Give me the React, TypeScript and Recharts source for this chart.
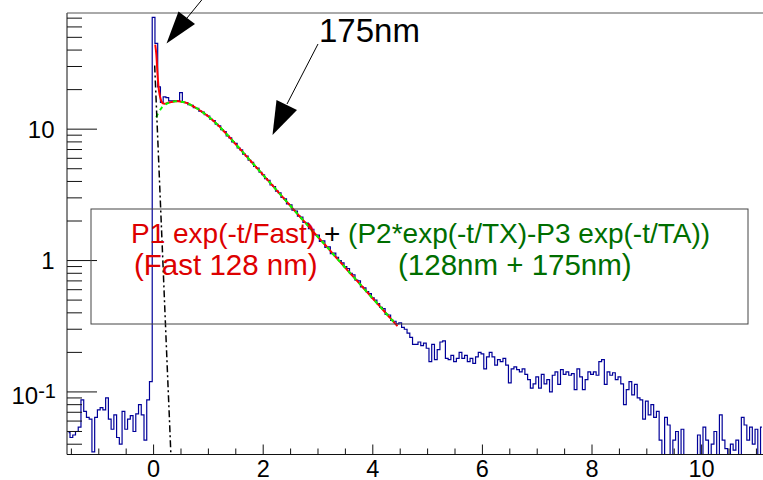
import React from "react";
import { LineChart, Line, XAxis, YAxis } from "recharts";

// histogram: bin centres start at -1.55, width 0.05
const BIN_FIRST = -1.55;
const BIN_WIDTH = 0.05;

// -1.55 .. -0.05
const histPre = [
  0.049, 0.045, 0.047, 0.05, 0.054, 0.087, 0.071, 0.064, 0.062, 0.035,
  0.064, 0.073, 0.076, 0.073, 0.09, 0.062, 0.052, 0.067, 0.045, 0.04,
  0.071, 0.052, 0.062, 0.066, 0.05, 0.068, 0.08, 0.067, 0.043, 0.087,
  0.12,
];
// 0.00 .. 0.55
const histPeak = [71, 45, 21, 16.0, 17.6, 17.4, 16.4, 16.4, 16.5, 16.4, 19.0, 16.0];
// 0.60 .. 4.50
const histDecay = [
  15.9, 15.4, 15.2, 14.6, 14.4, 13.7, 13.5, 12.9, 12.6, 11.9,
  11.6, 10.9, 10.6, 9.9, 9.6, 8.9, 8.6, 8.0, 7.8, 7.2,
  6.95, 6.45, 6.25, 5.8, 5.6, 5.2, 5.05, 4.7, 4.5, 4.2,
  4.08, 3.76, 3.66, 3.38, 3.27, 3.02, 2.95, 2.7, 2.66, 2.42,
  2.38, 2.18, 2.14, 1.95, 1.93, 1.75, 1.73, 1.57, 1.56, 1.4,
  1.41, 1.26, 1.27, 1.13, 1.14, 1.06, 1.0, 0.96, 0.9, 0.87,
  0.8, 0.78, 0.71, 0.7, 0.63, 0.62, 0.58, 0.56, 0.52, 0.5,
  0.47, 0.44, 0.43, 0.39, 0.385, 0.35, 0.345, 0.33, 0.335,
];
// 4.55 .. 11.10 (0.03 = empty, falls below the frame)
const histTail = [
  0.31, 0.3, 0.28, 0.26, 0.23, 0.23, 0.24, 0.225, 0.235, 0.215,
  0.17, 0.23, 0.176, 0.21, 0.24, 0.245, 0.18, 0.176, 0.19, 0.17,
  0.18, 0.2, 0.18, 0.19, 0.17, 0.18, 0.165, 0.185, 0.2, 0.195,
  0.15, 0.185, 0.2, 0.185, 0.16, 0.176, 0.17, 0.18, 0.16, 0.117,
  0.15, 0.155, 0.148, 0.142, 0.15, 0.136, 0.124, 0.107, 0.115, 0.13,
  0.107, 0.136, 0.115, 0.124, 0.1, 0.134, 0.142, 0.114, 0.148, 0.136,
  0.142, 0.134, 0.138, 0.104, 0.15, 0.13, 0.104, 0.124, 0.142, 0.136,
  0.142, 0.134, 0.17, 0.176, 0.114, 0.142, 0.134, 0.14, 0.124, 0.13,
  0.115, 0.08, 0.104, 0.12, 0.095, 0.114, 0.09, 0.087, 0.062, 0.085,
  0.067, 0.08, 0.064, 0.071, 0.043, 0.03, 0.064, 0.056, 0.03, 0.043,
  0.05, 0.03, 0.052, 0.03, 0.03, 0.03, 0.03, 0.03, 0.047, 0.03,
  0.054, 0.043, 0.03, 0.04, 0.05, 0.03, 0.067, 0.043, 0.037, 0.03,
  0.04, 0.036, 0.043, 0.03, 0.064, 0.056, 0.043, 0.054, 0.04, 0.052,
  0.03, 0.054,
];

// fit curves
const totalHeadX = [0.03, 0.05, 0.07, 0.09, 0.11, 0.13, 0.15, 0.17, 0.2, 0.25, 0.3, 0.35, 0.4, 0.45];
const totalHead = [44, 37, 27, 21, 18.3, 16.9, 16.1, 15.7, 15.6, 15.8, 16.0, 16.2, 16.3, 16.3];
const slowHeadX = [0.05, 0.07, 0.1, 0.15, 0.2, 0.25, 0.3, 0.35, 0.4, 0.45];
const slowHead = [12.3, 12.9, 13.6, 14.6, 15.2, 15.7, 16.0, 16.2, 16.3, 16.3];
const fitX = [
  0.5, 0.6, 0.7, 0.8, 0.9, 1.0, 1.1, 1.2, 1.3, 1.4, 1.5, 1.6, 1.7, 1.8, 1.9, 2.0,
  2.1, 2.2, 2.3, 2.4, 2.5, 2.6, 2.7, 2.8, 2.9, 3.0, 3.1, 3.2, 3.3, 3.4, 3.5, 3.6,
  3.7, 3.8, 3.9, 4.0, 4.1, 4.2, 4.3, 4.4,
];
const fitSlow = [
  16.2, 15.85, 15.1, 14.3, 13.4, 12.5, 11.5, 10.5, 9.48, 8.55, 7.67, 6.89, 6.18, 5.55, 4.99, 4.47,
  4.02, 3.6, 3.23, 2.9, 2.6, 2.33, 2.09, 1.88, 1.68, 1.51, 1.36, 1.22, 1.09, 0.98, 0.88, 0.79,
  0.71, 0.638, 0.572, 0.514, 0.462, 0.415, 0.372, 0.334,
];
const totalEndX = [4.45];
const totalEnd = [0.317];
const fastX = [0.02, 0.05, 0.08, 0.11, 0.14, 0.17, 0.2, 0.23, 0.26, 0.29, 0.32];
const fast = [30.5, 15.3, 7.7, 3.85, 1.93, 0.97, 0.48, 0.24, 0.12, 0.061, 0.03];

const xTicks = [-1.5, -1, -0.5, 0, 0.5, 1, 1.5, 2, 2.5, 3, 3.5, 4, 4.5, 5, 5.5, 6, 6.5, 7, 7.5, 8, 8.5, 9, 9.5, 10, 10.5, 11];
const yTicks = [
  0.04, 0.05, 0.06, 0.07, 0.08, 0.09, 0.1, 0.2, 0.3, 0.4, 0.5, 0.6, 0.7, 0.8, 0.9,
  1, 2, 3, 4, 5, 6, 7, 8, 9, 10, 20, 30, 40, 50, 60, 70,
];

const zip = (xs: number[], ys: number[]) => xs.map((x, i) => ({ x, y: ys[i] }));

const histData = [...histPre, ...histPeak, ...histDecay, ...histTail].map((y, i) => ({
  x: +(BIN_FIRST + i * BIN_WIDTH).toFixed(3),
  y,
}));
const totalData = [...zip(totalHeadX, totalHead), ...zip(fitX, fitSlow), ...zip(totalEndX, totalEnd)];
const slowData = [...zip(slowHeadX, slowHead), ...zip(fitX, fitSlow)];
const fastData = zip(fastX, fast);

const FONT = "'Liberation Sans', Arial, Helvetica, sans-serif";

const XTick = (props: any) => {
  const { x, y, payload } = props;
  const v = payload.value;
  const major = Math.abs(v % 2) < 1e-6;
  return (
    <g>
      <line x1={x} x2={x} y1={y} y2={y - (major ? 10 : 6)} stroke="#111" />
      {major && (
        <text x={x} y={y + 22} textAnchor="middle" fontSize={23.5} fontFamily={FONT} fill="#000">
          {v}
        </text>
      )}
    </g>
  );
};

const YTick = (props: any) => {
  const { x, y, payload } = props;
  const v = payload.value;
  const major = v === 0.1 || v === 1 || v === 10;
  let label: React.ReactNode = null;
  if (v === 10 || v === 1) {
    label = (
      <text x={x - 12.5} y={y + 8.5} textAnchor="end" fontSize={24} fontFamily={FONT} fill="#000">
        {v}
      </text>
    );
  } else if (v === 0.1) {
    label = (
      <text x={x - 11} y={y + 11.7} textAnchor="end" fontSize={24} fontFamily={FONT} fill="#000">
        10<tspan fontSize={20} dy={-6}>-1</tspan>
      </text>
    );
  }
  return (
    <g>
      <line x1={x} x2={x + (major ? 30 : 15)} y1={y} y2={y} stroke="#111" />
      {label}
    </g>
  );
};

export default function App() {
  return (
    <div style={{ position: "absolute", left: 0, top: 0, width: 763, height: 480, background: "#fff" }}>
      <LineChart width={763} height={480} margin={{ top: 13, right: 0, bottom: 0, left: 0 }}>
        <XAxis
          dataKey="x"
          type="number"
          domain={[-1.58, 11.12]}
          allowDataOverflow
          ticks={xTicks}
          interval={0}
          tickSize={0}
          tickMargin={0}
          tickLine={false}
          tick={<XTick />}
          height={25.5}
          stroke="#111"
        />
        <YAxis
          type="number"
          scale="log"
          domain={[0.0334, 76.6]}
          allowDataOverflow
          ticks={yTicks}
          interval={0}
          tickSize={0}
          tickMargin={0}
          tickLine={false}
          tick={<YTick />}
          width={67}
          stroke="#111"
        />
        <Line
          data={histData}
          dataKey="y"
          type="step"
          stroke="#000099"
          strokeWidth={1.2}
          dot={false}
          activeDot={false}
          isAnimationActive={false}
        />
        <Line
          data={totalData}
          dataKey="y"
          type="monotone"
          stroke="#ff0000"
          strokeWidth={2}
          dot={false}
          activeDot={false}
          isAnimationActive={false}
        />
        <Line
          data={slowData}
          dataKey="y"
          type="monotone"
          stroke="#00ff00"
          strokeWidth={2}
          strokeDasharray="4 4"
          dot={false}
          activeDot={false}
          isAnimationActive={false}
        />
        <Line
          data={fastData}
          dataKey="y"
          type="linear"
          stroke="#000"
          strokeWidth={1.5}
          strokeDasharray="7 3 2 3"
          dot={false}
          activeDot={false}
          isAnimationActive={false}
        />
      </LineChart>
      <svg
        width={763}
        height={480}
        style={{ position: "absolute", left: 0, top: 0, pointerEvents: "none" }}
        fontFamily={FONT}
      >
        <line x1={67} y1={13} x2={763} y2={13} stroke="#555" />
        <rect x={91} y={209} width={657} height={115} fill="none" stroke="#444" />
        <text x={131} y={243} fontSize={28} style={{ whiteSpace: "pre" }}>
          <tspan fill="#dd0000">P1 exp(-t/Fast)</tspan>
          <tspan fill="#000"> + </tspan>
          <tspan fill="#006e00">(P2*exp(-t/TX)-P3 exp(-t/TA))</tspan>
        </text>
        <text x={134} y={275} fontSize={29.5} fill="#dd0000">(Fast 128 nm)</text>
        <text x={398} y={275} fontSize={29.5} fill="#006e00">(128nm + 175nm)</text>
        <text x={319} y={42} fontSize={33} fill="#000">175nm</text>
        <line x1={205} y1={-4} x2={187} y2={18} stroke="#000" />
        <polygon points="166.5,43.5 178.5,11.5 195,24" fill="#000" />
        <line x1={318} y1={44} x2={287} y2={104} stroke="#000" />
        <polygon points="272.5,135 276.5,100 297,110" fill="#000" />
      </svg>
    </div>
  );
}
